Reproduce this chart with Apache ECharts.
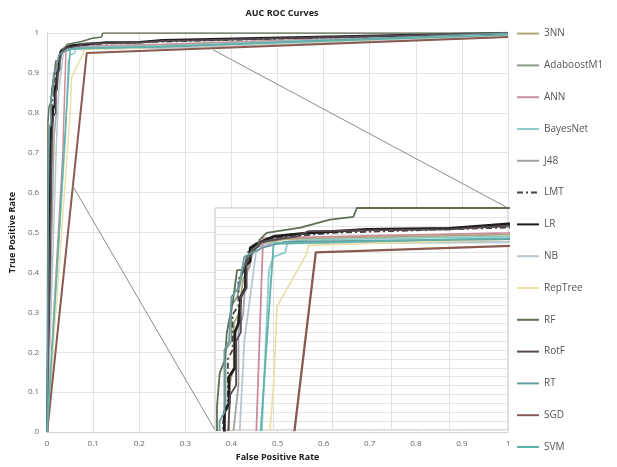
<!DOCTYPE html>
<html><head><meta charset="utf-8">
<script src="https://cdn.jsdelivr.net/npm/echarts@6/dist/echarts.min.js"></script>
<style>html,body{margin:0;padding:0;background:#fff}#c{width:617px;height:467px}</style>
</head><body><div id="c"></div>
<script>
// ---- data (FPR, TPR) ----
const seriesNames = ['3NN','AdaboostM1','ANN','BayesNet','J48','LMT','LR','NB','RepTree','RF','RotF','RT','SGD','SVM'];
const d3NN = [[0,0],[0.012,0.74],[0.012,0.80],[0.016,0.82],[0.016,0.87],[0.02,0.88],[0.024,0.92],[0.03,0.935],[0.03,0.95],[0.04,0.96],[0.06,0.965],[0.25,0.97],[1,1]];
const dAdaboostM1 = [[0,0],[0.005,0.70],[0.009,0.78],[0.009,0.84],[0.014,0.85],[0.014,0.89],[0.019,0.90],[0.024,0.93],[0.03,0.945],[0.035,0.96],[0.06,0.97],[0.13,0.975],[0.25,0.979],[1,1]];
const dANN = [[0,0],[0.034,0.70],[0.041,0.966],[0.25,0.972],[1,1]];
const dBayesNet = [[0,0],[0.04,0.75],[0.046,0.93],[0.05,0.945],[0.06,0.95],[0.062,0.962],[0.08,0.964],[0.25,0.968],[1,1]];
const dJ48 = [[0,0],[0.015,0.74],[0.02,0.80],[0.02,0.86],[0.024,0.88],[0.026,0.92],[0.03,0.94],[0.034,0.955],[0.05,0.96],[0.25,0.965],[1,0.995]];
const dLMT = [[0,0],[0.007,0.70],[0.007,0.76],[0.011,0.78],[0.011,0.83],[0.015,0.84],[0.015,0.88],[0.02,0.89],[0.02,0.92],[0.025,0.93],[0.028,0.95],[0.034,0.958],[0.05,0.966],[0.1,0.972],[0.25,0.978],[1,1]];
const dLR = [[0,0],[0.008,0.72],[0.008,0.77],[0.012,0.78],[0.012,0.81],[0.017,0.82],[0.017,0.86],[0.02,0.87],[0.022,0.90],[0.026,0.91],[0.026,0.935],[0.03,0.94],[0.03,0.955],[0.036,0.96],[0.05,0.968],[0.08,0.972],[0.13,0.976],[0.2,0.977],[0.25,0.982],[1,1]];
const dNB = [[0,0],[0.02,0.72],[0.025,0.85],[0.03,0.90],[0.035,0.95],[0.045,0.96],[0.25,0.962],[1,0.99]];
const dRepTree = [[0,0],[0.05,0.80],[0.053,0.889],[0.078,0.948],[0.08,0.958],[1,0.995]];
const dRF = [[0,0],[0.0017,0.70],[0.0017,0.776],[0.004,0.814],[0.0085,0.829],[0.010,0.859],[0.0154,0.896],[0.0188,0.930],[0.024,0.930],[0.0273,0.945],[0.032,0.953],[0.036,0.956],[0.038,0.964],[0.044,0.972],[0.073,0.978],[0.087,0.983],[0.098,0.987],[0.118,0.99],[0.121,1.0],[1,1]];
const dRotF = [[0,0],[0.01,0.72],[0.013,0.79],[0.018,0.80],[0.018,0.85],[0.022,0.86],[0.022,0.90],[0.027,0.91],[0.027,0.94],[0.032,0.95],[0.04,0.962],[0.07,0.968],[0.08,0.974],[0.2,0.976],[0.25,0.98],[1,1]];
const dRT = [[0,0],[0.003,0.70],[0.004,0.76],[0.008,0.77],[0.008,0.84],[0.012,0.85],[0.014,0.90],[0.02,0.91],[0.025,0.945],[0.04,0.955],[0.06,0.962],[0.25,0.965],[1,1]];
const dSGD = [[0,0],[0.086,0.95],[1,0.99]];
const dSVM = [[0,0],[0.05,0.96],[0.25,0.966],[1,0.995]];
const seriesData = [d3NN,dAdaboostM1,dANN,dBayesNet,dJ48,dLMT,dLR,dNB,dRepTree,dRF,dRotF,dRT,dSGD,dSVM];
// zoom-connector anchor points: [main chart point, inset corner]
const zoomFromMain = [[0.36,0.958],[0.054,0.62]];
const zoomToInset = [[0.25,1.0],[0,0.75]];

// ---- styles ----
const colors = ['#a9a874','#8c9c8a','#c98c9a','#8fcaca','#a3a3a3','#454545','#1e1e1e','#bac6ce','#e9e1a8','#5e6e54','#574a55','#6b9ca3','#8a5a52','#5fb3aa'];
const widths = [1.5,1.5,1.5,1.5,1.5,1.5,2.5,1.5,1.5,1.5,1.5,1.5,2,1.5];
const dashes = seriesNames.map(n => n === 'LMT' ? [6,3,2,3] : 'solid');

const chart = echarts.init(document.getElementById('c'), null, {renderer:'canvas'});
const series = [];
seriesNames.forEach((n,i) => {
  series.push({name:n, type:'line', xAxisIndex:0, yAxisIndex:0, data:seriesData[i], symbol:'none',
    lineStyle:{color:colors[i], width:widths[i], type:dashes[i]}, itemStyle:{color:colors[i]}, z:2, animation:false});
  series.push({name:n, type:'line', xAxisIndex:1, yAxisIndex:1, data:seriesData[i], symbol:'none', clip:true,
    lineStyle:{color:colors[i], width:widths[i]+0.3, type:dashes[i]}, itemStyle:{color:colors[i]}, z:7, animation:false});
});
const fontFam = '"Open Sans", "Liberation Sans", sans-serif';
chart.setOption({
  animation:false,
  textStyle:{fontFamily:fontFam},
  title:{text:'AUC ROC Curves', left:277, top:4, textAlign:'center',
    textStyle:{fontSize:9, fontWeight:'bold', color:'#222', fontFamily:fontFam}},
  legend:{data:seriesNames,
    orient:'vertical', left:516, top:28, padding:0, itemWidth:22, itemHeight:14, itemGap:20.6,
    itemStyle:{opacity:0},
    textStyle:{fontSize:10, color:'#555', fontFamily:fontFam}},
  grid:[
    {left:47, right:109, top:33, bottom:34, containLabel:false},
    {left:215, right:109, top:208, bottom:37, show:true, backgroundColor:'#ffffff', borderColor:'#bdbdbd', borderWidth:1, z:5}
  ],
  xAxis:[
    {type:'value', gridIndex:0, min:0, max:1, interval:0.1, name:'False Positive Rate', nameLocation:'middle', nameGap:20,
      nameTextStyle:{fontSize:9, fontWeight:'bold', color:'#222'},
      axisLine:{show:true, lineStyle:{color:'#d5d5d5'}}, axisTick:{show:false},
      axisLabel:{fontSize:8, color:'#666', margin:8}, splitLine:{show:true, lineStyle:{color:'#e3e3e3'}}},
    {type:'value', gridIndex:1, min:0, max:0.25, interval:0.05, z:6,
      axisLine:{show:false}, axisTick:{show:false}, axisLabel:{show:false},
      splitLine:{show:true, lineStyle:{color:'#e0e0e0'}}}
  ],
  yAxis:[
    {type:'value', gridIndex:0, min:0, max:1, interval:0.1, name:'True Positive Rate', nameLocation:'middle', nameGap:18,
      nameTextStyle:{fontSize:9, fontWeight:'bold', color:'#222'},
      axisLine:{show:true, lineStyle:{color:'#d5d5d5'}}, axisTick:{show:false},
      axisLabel:{fontSize:8, color:'#666', margin:8}, splitLine:{show:true, lineStyle:{color:'#e3e3e3'}}},
    {type:'value', gridIndex:1, min:0.75, max:1, interval:0.01, z:6,
      axisLine:{show:false}, axisTick:{show:false}, axisLabel:{show:false},
      splitLine:{show:true, lineStyle:{color:'#e4e4e4'}}}
  ],
  series: series
});
// connector lines from main chart to inset
const elems = zoomFromMain.map((p,i) => {
  const a = chart.convertToPixel({gridIndex:0}, p);
  const b = chart.convertToPixel({gridIndex:1}, zoomToInset[i]);
  return {type:'line', z:3, silent:true, shape:{x1:a[0], y1:a[1], x2:b[0], y2:b[1]}, style:{stroke:'#8a8a8a', lineWidth:1}};
});
chart.setOption({graphic:{elements:elems}});
</script>
</body></html>
